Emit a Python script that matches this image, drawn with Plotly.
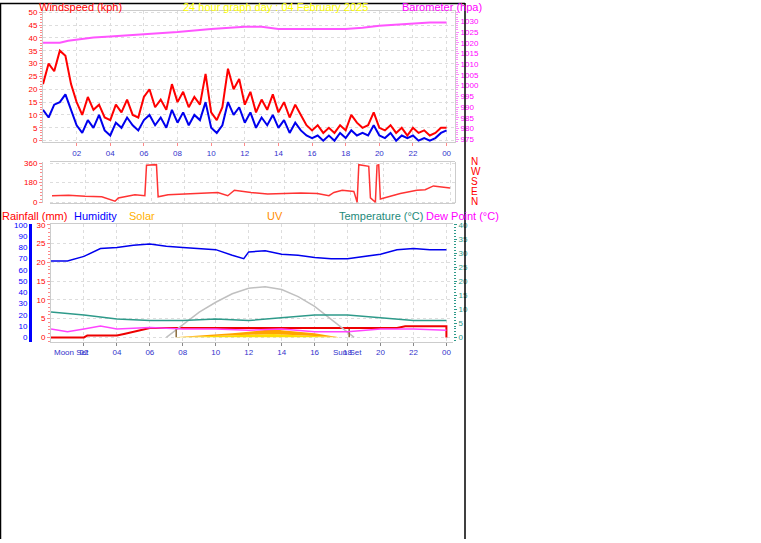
import plotly.graph_objects as go

W, H = 761, 543

# wind speed, every 20 minutes (kph)
wind_hours = [i / 3 for i in range(73)]
gust = [22, 30, 27, 35, 33, 22, 15, 10, 17, 12, 14, 9, 8, 14, 11, 16, 10, 9,
        17, 20, 13, 16, 12, 22, 15, 19, 13, 17, 14, 26, 11, 8, 13, 28, 20, 24,
        14, 19, 11, 16, 12, 18, 11, 15, 9, 14, 10, 6, 4, 6, 3, 5, 3, 6,
        4, 10, 7, 5, 6, 11, 5, 4, 6, 3, 5, 2, 5, 3, 4, 2, 3, 5, 5]
avg = [12, 9, 14, 15, 18, 12, 6, 3, 8, 5, 10, 4, 2, 7, 5, 9, 6, 4,
       8, 10, 6, 9, 5, 12, 7, 11, 6, 10, 8, 15, 5, 3, 6, 15, 10, 13,
       7, 11, 5, 9, 6, 10, 5, 8, 3, 7, 4, 2, 1, 2, 0, 2, 0, 3,
       1, 4, 2, 3, 2, 6, 2, 1, 3, 0, 2, 1, 2, 0, 1, 0, 1, 3, 4]

baro_hours = [0, 1, 1.5, 3, 4, 6, 8, 10, 12, 13, 13.5, 14, 18, 19, 20, 22, 23, 24]
baro = [1020, 1020, 1021, 1022.5, 1023, 1024, 1025, 1026.5, 1027.5, 1027.5, 1027, 1026.5,
        1026.5, 1027, 1028, 1029, 1029.5, 1029.5]

dir_hours = [0, 1, 2, 3, 3.8, 4, 5, 5.6, 5.7, 6.3, 6.4, 7, 8, 9, 10, 10.6, 11, 12, 13, 14,
             15, 16, 16.7, 17, 17.5, 18.2, 18.4, 18.5, 19.1, 19.2, 19.5, 19.6, 19.7, 19.8,
             20.5, 21, 22, 22.5, 23, 23.5, 24]
dir_vals = [60, 65, 55, 50, 10, 40, 70, 60, 340, 345, 50, 70, 75, 80, 90, 60, 110, 90, 75, 80,
            85, 80, 60, 90, 110, 100, 0, 345, 330, 40, 0, 340, 345, 30,
            60, 80, 110, 115, 150, 140, 130]

hum_hours = [0, 1, 2, 3, 4, 5, 6, 7, 8, 9, 10, 11, 11.7, 12, 13, 14, 15, 16, 17, 18, 19, 20, 21, 22, 23, 24]
humidity = [68, 68, 72, 79, 80, 82, 83, 81, 80, 79, 78, 73, 70, 76, 77, 74, 73, 71, 70, 70,
            72, 74, 78, 79, 78, 78]

temp_hours = [0, 2, 4, 6, 8, 10, 12, 14, 16, 18, 20, 22, 24]
temperature = [9, 8, 6.5, 6, 6, 6.5, 6, 7, 8, 8, 7, 6, 6]
dew_hours = [0, 1, 2, 3, 4, 6, 8, 10, 12, 14, 16, 18, 20, 22, 24]
dewpoint = [3, 2, 3, 4, 3, 3.5, 3, 3, 2.5, 3, 2, 2, 3, 3, 2.5]

rain_hours = [0, 2, 2.2, 4, 4.5, 5, 5.5, 6, 21, 21.5, 24, 24]
rain = [0, 0, 0.5, 0.5, 1, 1.5, 2, 2.5, 2.5, 3, 3, 0]

sun_hours = [7, 8, 9, 10, 11, 12, 12.7, 13, 14, 15, 16, 17, 18, 18.4]
sun_elev = [0, 4.5, 9, 12.5, 15.5, 17.5, 18, 18, 17, 14.5, 11, 6.5, 2, 0]

uv_hours = [7.5, 8, 9, 10, 11, 12, 13, 13.5, 14, 15, 16, 17, 17.5]
uv = [0, 0.2, 0.5, 1, 1.5, 2, 2.5, 3, 2.5, 2, 1.5, 0.5, 0]
solar = [0, 0.1, 0.2, 0.4, 0.6, 0.8, 1, 1.2, 1, 0.8, 0.5, 0.2, 0]

hour_ticks = list(range(2, 25, 2))
hour_labels = ["%02d" % (h % 24) for h in hour_ticks]


def px(x):
    return x / W


def py(y):
    return 1 - y / H


FONT = "Liberation Sans"
grid = dict(showgrid=True, gridcolor="#dddddd", griddash="dot", zeroline=False)

fig = go.Figure()

# panel 1: wind + barometer
fig.add_trace(go.Scatter(x=wind_hours, y=gust, mode="lines", line=dict(color="#ff0000", width=2), xaxis="x", yaxis="y"))
fig.add_trace(go.Scatter(x=wind_hours, y=avg, mode="lines", line=dict(color="#0000ee", width=2), xaxis="x", yaxis="y"))
fig.add_trace(go.Scatter(x=baro_hours, y=baro, mode="lines", line=dict(color="#ff55ff", width=2), xaxis="x", yaxis="y2"))

# panel 2: direction
fig.add_trace(go.Scatter(x=dir_hours, y=dir_vals, mode="lines", line=dict(color="#ff3333", width=1.5), xaxis="x2", yaxis="y3"))

# panel 3
fig.add_trace(go.Scatter(x=uv_hours, y=solar, mode="lines", fill="tozeroy", fillcolor="#ffdd00", line=dict(width=0), xaxis="x3", yaxis="y6"))
fig.add_trace(go.Scatter(x=uv_hours, y=uv, mode="lines", fill="tonexty", fillcolor="#ffa500", line=dict(width=0), xaxis="x3", yaxis="y6"))
fig.add_trace(go.Scatter(x=sun_hours, y=sun_elev, mode="lines", line=dict(color="#c0c0c0", width=1.5), xaxis="x3", yaxis="y6"))
fig.add_trace(go.Scatter(x=[7.6, 7.6, None, 18.1, 18.1], y=[0, 3, None, 0, 3], mode="lines", line=dict(color="#8b6b3b", width=1.5), xaxis="x3", yaxis="y6"))
fig.add_trace(go.Scatter(x=hum_hours, y=humidity, mode="lines", line=dict(color="#0000ee", width=1.5), xaxis="x3", yaxis="y4"))
fig.add_trace(go.Scatter(x=temp_hours, y=temperature, mode="lines", line=dict(color="#2e9a8a", width=1.5), xaxis="x3", yaxis="y6"))
fig.add_trace(go.Scatter(x=dew_hours, y=dewpoint, mode="lines", line=dict(color="#ff44ff", width=1.5), xaxis="x3", yaxis="y6"))
fig.add_trace(go.Scatter(x=rain_hours, y=rain, mode="lines", line=dict(color="#ee0000", width=2), xaxis="x3", yaxis="y5"))

tickf = dict(family=FONT, size=8)
fig.update_layout(
    width=W, height=H, margin=dict(l=0, r=0, t=0, b=0),
    paper_bgcolor="white", plot_bgcolor="white", showlegend=False,
    font=dict(family=FONT, size=10),
    xaxis=dict(domain=[px(43), px(455)], range=[0, 24.5], anchor="y", tickvals=hour_ticks, ticktext=hour_labels,
               tickfont=dict(tickf, color="#3333cc"), ticks="outside", ticklen=3, tickcolor="#ff8888",
               showline=True, linecolor="#cccccc", mirror=True, **grid),
    yaxis=dict(domain=[py(141), py(8)], range=[-0.6, 50.5], dtick=5, tickfont=dict(tickf, color="#ff0000"),
               ticks="outside", ticklen=3, tickcolor="#ff8888", showline=True, linecolor="#cccccc", mirror=True,
               minor=dict(ticks="outside", ticklen=2, tickcolor="#ff8888", dtick=1), **grid),
    yaxis2=dict(overlaying="y", side="right", anchor="x", range=[973.6, 1034.9], tickvals=list(range(975, 1031, 5)),
                tickfont=dict(tickf, color="#ff00ff"), ticks="outside", ticklen=3, tickcolor="#ff88ff",
                minor=dict(ticks="outside", ticklen=2, tickcolor="#ff88ff", dtick=1), showgrid=False, zeroline=False),
    xaxis2=dict(domain=[px(50), px(455)], range=[-0.12, 24.3], anchor="y3", tickvals=hour_ticks, showticklabels=False,
                showline=True, linecolor="#cccccc", mirror=True, **grid),
    yaxis3=dict(domain=[py(203), py(161)], range=[-10, 370], tickvals=[0, 180, 360], tickfont=dict(tickf, color="#ff0000"),
                ticks="outside", ticklen=3, tickcolor="#ff8888", showline=True, linecolor="#cccccc", mirror=True,
                minor=dict(ticks="outside", ticklen=2, tickcolor="#ff8888", dtick=30), **grid),
    xaxis3=dict(domain=[px(51), px(453)], range=[0, 24.4], anchor="y5", tickvals=hour_ticks, ticktext=hour_labels,
                tickfont=dict(tickf, color="#3333cc"), ticks="outside", ticklen=3, tickcolor="#888888",
                showline=True, linecolor="#cccccc", mirror=True, **grid),
    yaxis5=dict(domain=[py(343), py(224)], range=[-1.1, 30.2], dtick=5, tickfont=dict(tickf, color="#ff0000"),
                anchor="x3", ticks="outside", ticklen=3, tickcolor="#ff8888", showline=True, linecolor="#cccccc",
                minor=dict(ticks="outside", ticklen=2, tickcolor="#ff8888", dtick=1), **grid),
    yaxis4=dict(overlaying="y5", anchor="free", position=px(30), side="left", range=[-3.7, 100.7], dtick=10,
                tickfont=dict(tickf, color="#0000ff"), ticks="", showline=True, linecolor="#0000ff", linewidth=3,
                showgrid=False, zeroline=False),
    yaxis6=dict(overlaying="y5", side="right", anchor="x3", range=[-1.5, 40.3], dtick=5,
                tickfont=dict(tickf, color="#2e9a8a"), ticks="outside", ticklen=3, tickcolor="#2e9a8a",
                minor=dict(ticks="outside", ticklen=2, tickcolor="#2e9a8a", dtick=1), showgrid=False, zeroline=False),
)

anns = [
    (37, 4, "Windspeed (kph)", "#ff0000", "left"),
    (275, 4, "24 hour graph day : 04 February 2025", "#ffff00", "center"),
    (400, 4, "Barometer (hpa)", "#ff00ff", "left"),
    (0, 216, "Rainfall (mm)", "#ff0000", "left"),
    (72, 216, "Humidity", "#0000ff", "left"),
    (127, 216, "Solar", "#ffb000", "left"),
    (265, 216, "UV", "#ff8c00", "left"),
    (337, 216, "Temperature (\u00b0C)", "#1e8a7a", "left"),
    (424, 216, "Dew Point (\u00b0C)", "#ff00ff", "left"),
    (52, 354, "Moon Set", "#3333cc", "left"),
    (331, 354, "Sun Set", "#3333cc", "left"),
]
for x, y, t, c, al in anns:
    fig.add_annotation(x=px(x), y=py(y), xref="paper", yref="paper", text=t, showarrow=False,
                       xanchor=al, yanchor="middle", font=dict(color=c, size=11 if y < 300 else 8, family=FONT))
for i, t in enumerate(["N", "W", "S", "E", "N"]):
    fig.add_annotation(x=px(469), y=py(161 + i * 10), xref="paper", yref="paper", text=t, showarrow=False,
                       xanchor="left", yanchor="middle", font=dict(color="#ff0000", size=10, family=FONT))

for x0, y0, x1, y1 in [(0, 0.5, 465, 0.5), (0.5, 0, 0.5, H), (465, 0, 465, H)]:
    fig.add_shape(type="line", xref="paper", yref="paper", x0=px(x0), y0=py(y0), x1=px(x1), y1=py(y1),
                  line=dict(color="black", width=1.5))

fig.write_html("out.html", config={"displayModeBar": False},
               post_script="document.body.style.margin='0';document.body.style.padding='0';")
